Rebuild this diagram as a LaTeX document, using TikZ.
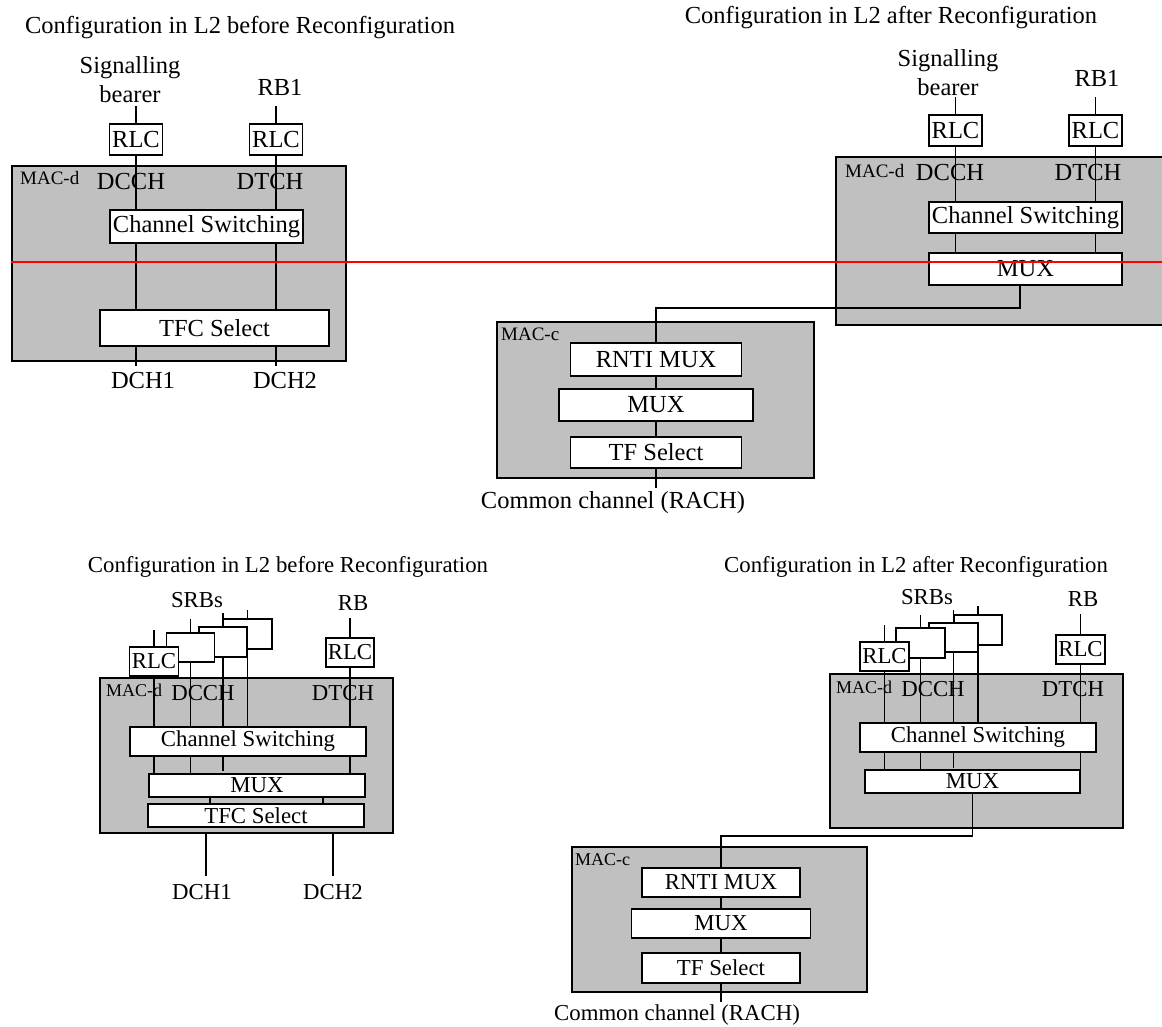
\documentclass[tikz,border=0pt]{standalone}
\usepackage{fontspec}
\setmainfont{Liberation Serif}
\usetikzlibrary{positioning}
\definecolor{macgray}{RGB}{192,192,192}

\begin{document}
\begin{tikzpicture}[
    x=1pt, y=-1pt,
    macbox/.style={rectangle, draw=black, fill=macgray, line width=1.8pt, inner sep=0pt},
    fnbox/.style={rectangle, draw=black, fill=white, line width=1.8pt, inner sep=0pt},
    bigtxt/.style={font=\fontsize{24.5}{29}\selectfont},
    midtxt/.style={font=\fontsize{22.8}{27}\selectfont},
    txt/.style={inner sep=0pt, align=center},
    mactag/.style={inner sep=0pt, anchor=west, font=\fontsize{19}{22}\selectfont},
    link/.style={draw=black, line width=1.7pt},
    cut/.style={draw=red, line width=1.7pt}
]
    \useasboundingbox (0,0) rectangle (1162,1026);

    % before reconfiguration, upper
    \node[txt, bigtxt] (titleA) at (240,28) {Configuration in L2 before Reconfiguration};
    \node[txt, bigtxt] (sigA) at (130,80) {Signalling\\bearer};
    \node[txt, bigtxt] (rbA) at (280,87) {RB1};
    \node[macbox, minimum width=334pt, minimum height=195pt] (macdA) at (179,263.5) {};
    \node[mactag] (tagA) at (20,178) {MAC-d};
    \node[txt, bigtxt] (dcchA) at (131,182) {DCCH};
    \node[txt, bigtxt] (dtchA) at (270,182) {DTCH};
    \node[fnbox, bigtxt, minimum width=53pt, minimum height=31pt] (rlcA1) at (136,139.5) {RLC};
    \node[fnbox, bigtxt, minimum width=53pt, minimum height=31pt] (rlcA2) at (276,139.5) {RLC};
    \node[fnbox, bigtxt, minimum width=193pt, minimum height=33pt] (csA) at (206.5,226.5) {Channel Switching};
    \node[fnbox, bigtxt, minimum width=229pt, minimum height=36pt] (tfcA) at (214.5,328) {TFC Select};
    \node[txt, bigtxt] (dch1A) at (143,381) {DCH1};
    \node[txt, bigtxt] (dch2A) at (285,381) {DCH2};
    \coordinate (inA1) at (136,106);
    \coordinate (inA2) at (276,106);
    \coordinate (outA1) at (136,366);
    \coordinate (outA2) at (276,366);

    \draw[link] (inA1) -- (rlcA1.north);
    \draw[link] (rlcA1.south) -- (rlcA1.south |- csA.north);
    \draw[link] (rlcA1.south |- csA.south) -- (rlcA1.south |- tfcA.north);
    \draw[link] (outA1 |- tfcA.south) -- (outA1);
    \draw[link] (inA2) -- (rlcA2.north);
    \draw[link] (rlcA2.south) -- (rlcA2.south |- csA.north);
    \draw[link] (rlcA2.south |- csA.south) -- (rlcA2.south |- tfcA.north);
    \draw[link] (outA2 |- tfcA.south) -- (outA2);

    % after reconfiguration, upper
    \node[txt, bigtxt] (titleB) at (891,18) {Configuration in L2 after Reconfiguration};
    \node[txt, bigtxt] (sigB) at (948,72.5) {Signalling\\bearer};
    \node[txt, bigtxt] (rbB) at (1097,78) {RB1};
    \node[macbox, draw=none, minimum width=325pt, minimum height=166pt] (macdB) at (999.5,241) {};
    \draw[line width=1.8pt] (macdB.north east) -- (macdB.north west) -- (macdB.south west) -- (macdB.south east);
    \node[mactag] (tagB) at (845,171) {MAC-d};
    \node[txt, bigtxt] (dcchB) at (950,173) {DCCH};
    \node[txt, bigtxt] (dtchB) at (1088,173) {DTCH};
    \node[fnbox, bigtxt, minimum width=53pt, minimum height=31pt] (rlcB1) at (955.5,130.5) {RLC};
    \node[fnbox, bigtxt, minimum width=53pt, minimum height=31pt] (rlcB2) at (1095.5,130.5) {RLC};
    \node[fnbox, bigtxt, minimum width=193pt, minimum height=31pt] (csB) at (1025.5,217.5) {Channel Switching};
    \node[fnbox, bigtxt, minimum width=193pt, minimum height=32pt] (muxB) at (1025.5,269) {MUX};
    \node[macbox, minimum width=317pt, minimum height=156pt] (maccB) at (655.5,400) {};
    \node[mactag] (tagC) at (501,334) {MAC-c};
    \node[fnbox, bigtxt, minimum width=171pt, minimum height=33pt] (rntiB) at (656,359.5) {RNTI MUX};
    \node[fnbox, bigtxt, minimum width=194pt, minimum height=32pt] (muxC) at (656,405) {MUX};
    \node[fnbox, bigtxt, minimum width=171pt, minimum height=31pt] (tfsB) at (656,452.5) {TF Select};
    \node[txt, bigtxt] (rachB) at (613,503) {Common channel (RACH)};
    \coordinate (inB1) at (955.5,97);
    \coordinate (inB2) at (1095.5,97);
    \coordinate (outB) at (656,488);

    \draw[link] (inB1) -- (rlcB1.north);
    \draw[link] (rlcB1.south) -- (rlcB1.south |- csB.north);
    \draw[link] (rlcB1.south |- csB.south) -- (rlcB1.south |- muxB.north);
    \draw[link] (inB2) -- (rlcB2.north);
    \draw[link] (rlcB2.south) -- (rlcB2.south |- csB.north);
    \draw[link] (rlcB2.south |- csB.south) -- (rlcB2.south |- muxB.north);
    \draw[link] ([xshift=-5.5pt]muxB.south) -- ++(0,22) -| (rntiB.north);
    \draw[link] (rntiB.south) -- (muxC.north);
    \draw[link] (muxC.south) -- (tfsB.north);
    \draw[link] (tfsB.south) -- (outB);

    % before reconfiguration, lower
    \node[txt, midtxt] (titleC) at (288,567) {Configuration in L2 before Reconfiguration};
    \node[txt, midtxt] (srbC) at (197,600) {SRBs};
    \node[txt, midtxt] (rbC) at (353,603) {RB};
    \node[macbox, minimum width=293pt, minimum height=155pt] (macdC) at (246.5,755.5) {};
    \node[fnbox, minimum width=49pt, minimum height=30pt] (srbC4) at (247.5,634) {};
    \node[fnbox, minimum width=48pt, minimum height=30pt] (srbC3) at (223,642) {};
    \node[fnbox, minimum width=48pt, minimum height=29pt] (srbC2) at (190.5,647.5) {};
    \node[fnbox, midtxt, minimum width=49pt, minimum height=29pt] (srbC1) at (154,661.5) {RLC};
    \node[fnbox, midtxt, minimum width=48pt, minimum height=29pt] (rlcC) at (350,652.5) {RLC};
    \node[mactag, font=\fontsize{18}{21}\selectfont] (tagD) at (106,690) {MAC-d};
    \node[txt, midtxt] (dcchC) at (203,693) {DCCH};
    \node[txt, midtxt] (dtchC) at (343,693) {DTCH};
    \node[fnbox, midtxt, minimum width=236pt, minimum height=29pt] (csC) at (248,741.5) {Channel Switching};
    \node[fnbox, midtxt, minimum width=216pt, minimum height=23pt] (muxD) at (257,785.5) {MUX};
    \node[fnbox, midtxt, minimum width=216pt, minimum height=23pt] (tfcC) at (256,815.5) {TFC Select};
    \node[txt, midtxt] (dch1C) at (202,892) {DCH1};
    \node[txt, midtxt] (dch2C) at (333,892) {DCH2};
    \coordinate (inC1) at (154,630);
    \coordinate (inC2) at (190.5,619);
    \coordinate (inC3) at (223,613);
    \coordinate (inC4) at (247.5,610);
    \coordinate (inC5) at (350,618);
    \coordinate (outC1) at (206,876);
    \coordinate (outC2) at (333,876);

    \draw[link] (inC1) -- (srbC1.north);
    \draw[link] (inC2) -- (srbC2.north);
    \draw[link] (inC3) -- (srbC3.north);
    \draw[link] (inC4) -- (srbC4.north);
    \draw[link] (inC5) -- (rlcC.north);
    \draw[link] (srbC1.south) -- (srbC1.south |- csC.north);
    \draw[link] (srbC2.south) -- (srbC2.south |- csC.north);
    \draw[link] (srbC3.south) -- (srbC3.south |- csC.north);
    \draw[link] (srbC4.south) -- (srbC4.south |- csC.north);
    \draw[link] (rlcC.south) -- (rlcC.south |- csC.north);
    \draw[link] (srbC1.south |- csC.south) -- (srbC1.south |- muxD.north);
    \draw[link] (srbC2.south |- csC.south) -- (srbC2.south |- muxD.north);
    \draw[link] (srbC3.south |- csC.south) -- ++(0,14);
    \draw[link] (rlcC.south |- csC.south) -- (rlcC.south |- muxD.north);
    \draw[link] ([xshift=-47pt]muxD.south) -- ([xshift=-47pt]muxD.south |- tfcC.north);
    \draw[link] ([xshift=66pt]muxD.south) -- ([xshift=66pt]muxD.south |- tfcC.north);
    \draw[link] (outC1 |- macdC.south) -- (outC1);
    \draw[link] (outC2 |- macdC.south) -- (outC2);

    % after reconfiguration, lower
    \node[txt, midtxt] (titleD) at (916,567) {Configuration in L2 after Reconfiguration};
    \node[txt, midtxt] (srbD) at (927,597) {SRBs};
    \node[txt, midtxt] (rbD) at (1083,599) {RB};
    \node[macbox, minimum width=293pt, minimum height=154pt] (macdD) at (976.5,751) {};
    \node[fnbox, minimum width=48pt, minimum height=30pt] (srbD4) at (978,630) {};
    \node[fnbox, minimum width=49pt, minimum height=29pt] (srbD3) at (953.5,637.5) {};
    \node[fnbox, minimum width=49pt, minimum height=30pt] (srbD2) at (920.5,643) {};
    \node[fnbox, midtxt, minimum width=49pt, minimum height=29pt] (srbD1) at (884.5,656.5) {RLC};
    \node[fnbox, midtxt, minimum width=49pt, minimum height=29pt] (rlcD) at (1080.5,649.5) {RLC};
    \node[mactag, font=\fontsize{18}{21}\selectfont] (tagE) at (836,687) {MAC-d};
    \node[txt, midtxt] (dcchD) at (933,689) {DCCH};
    \node[txt, midtxt] (dtchD) at (1073,689) {DTCH};
    \node[fnbox, midtxt, minimum width=236pt, minimum height=29pt] (csD) at (978,737.5) {Channel Switching};
    \node[fnbox, midtxt, minimum width=215pt, minimum height=23pt] (muxE) at (972.5,781.5) {MUX};
    \node[macbox, minimum width=295pt, minimum height=145pt] (maccD) at (719.5,919.5) {};
    \node[mactag, font=\fontsize{18}{21}\selectfont] (tagF) at (575,860) {MAC-c};
    \node[fnbox, midtxt, minimum width=158pt, minimum height=29pt] (rntiD) at (721,882.5) {RNTI MUX};
    \node[fnbox, midtxt, minimum width=179pt, minimum height=29pt] (muxF) at (721,923.5) {MUX};
    \node[fnbox, midtxt, minimum width=158pt, minimum height=30pt] (tfsD) at (721,968) {TF Select};
    \node[txt, midtxt] (rachD) at (677,1015) {Common channel (RACH)};
    \coordinate (inD1) at (884.5,625);
    \coordinate (inD2) at (920.5,615);
    \coordinate (inD3) at (953.5,610);
    \coordinate (inD4) at (978,606);
    \coordinate (inD5) at (1080.5,614);
    \coordinate (outD) at (721,1002);

    \draw[link] (inD1) -- (srbD1.north);
    \draw[link] (inD2) -- (srbD2.north);
    \draw[link] (inD3) -- (srbD3.north);
    \draw[link] (inD4) -- (srbD4.north);
    \draw[link] (inD5) -- (rlcD.north);
    \draw[link] (srbD1.south) -- (srbD1.south |- csD.north);
    \draw[link] (srbD2.south) -- (srbD2.south |- csD.north);
    \draw[link] (srbD3.south) -- (srbD3.south |- csD.north);
    \draw[link] (srbD4.south) -- (srbD4.south |- csD.north);
    \draw[link] (rlcD.south) -- (rlcD.south |- csD.north);
    \draw[link] (srbD1.south |- csD.south) -- (srbD1.south |- muxE.north);
    \draw[link] (srbD2.south |- csD.south) -- (srbD2.south |- muxE.north);
    \draw[link] (srbD3.south |- csD.south) -- ++(0,15);
    \draw[link] (rlcD.south |- csD.south) -- (rlcD.south |- muxE.north);
    \draw[link] (muxE.south) -- ++(0,42) -| (rntiD.north);
    \draw[link] (rntiD.south) -- (muxF.north);
    \draw[link] (muxF.south) -- (tfsD.north);
    \draw[link] (tfsD.south) -- (outD);

    \coordinate (cutend) at (1162,262);
    \draw[cut] (macdA.west |- cutend) -- (cutend);
\end{tikzpicture}
\end{document}
